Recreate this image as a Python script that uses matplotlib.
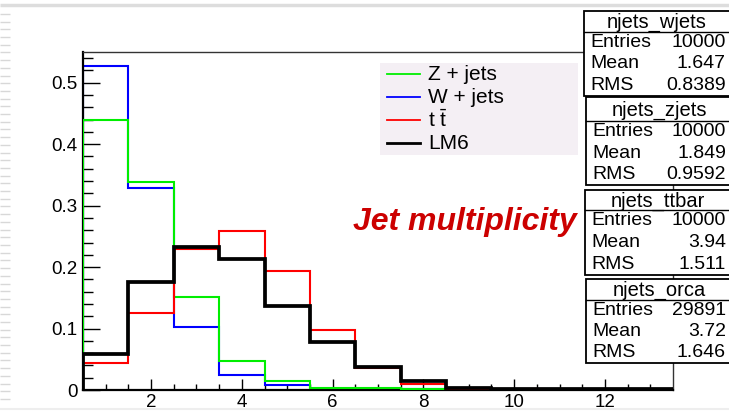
import numpy as np
import matplotlib.pyplot as plt
from matplotlib.patches import Rectangle

plt.rcParams['font.family'] = ['Liberation Sans', 'DejaVu Sans']
plt.rcParams['mathtext.fontset'] = 'custom'
plt.rcParams['mathtext.rm'] = 'Liberation Sans'

# bin edges (number of jets, 1..13)
edges = np.arange(0.5, 14.5, 1.0)

# normalised jet multiplicity per sample
zjets = [0.44, 0.338, 0.151, 0.047, 0.014, 0.004, 0.003, 0.002, 0.001, 0, 0, 0, 0]
wjets = [0.527, 0.329, 0.103, 0.025, 0.008, 0.002, 0.001, 0.001, 0.002, 0, 0, 0, 0]
ttbar = [0.044, 0.126, 0.229, 0.259, 0.194, 0.098, 0.036, 0.01, 0.002, 0.001, 0, 0, 0]
lm6   = [0.058, 0.176, 0.233, 0.213, 0.137, 0.078, 0.038, 0.015, 0.004, 0.001, 0.001, 0.001, 0.001]

legend_labels = ["Z + jets", "W + jets", r"t $\bar{\rm t}$", "LM6"]
legend_colors = ["#00ee00", "#0000ff", "#ff0000", "black"]

stat_boxes = [
    ("njets_wjets", "10000", "1.647", "0.8389"),
    ("njets_zjets", "10000", "1.849", "0.9592"),
    ("njets_ttbar", "10000", "3.94", "1.511"),
    ("njets_orca", "29891", "3.72", "1.646"),
]

W, H = 729, 411
fig = plt.figure(figsize=(W / 100, H / 100), dpi=100)
fig.patch.set_facecolor("white")

ax = fig.add_axes([83 / W, (H - 390) / H, (673 - 83) / W, (390 - 52) / H])
ax.stairs(wjets, edges, color="#0000ff", lw=1.5, zorder=2)
ax.stairs(zjets, edges, color="#00ee00", lw=1.5, zorder=3)
ax.stairs(ttbar, edges, color="#ff0000", lw=1.5, zorder=4)
ax.stairs(lm6, edges, color="black", lw=2.7, zorder=5)

ax.set_xlim(0.5, 13.5)
ax.set_ylim(0, 0.55)
ax.set_xticks([2, 4, 6, 8, 10, 12])
ax.set_xticks(np.arange(1, 13.5, 0.5), minor=True)
ax.set_yticks([0, 0.1, 0.2, 0.3, 0.4, 0.5])
ax.set_yticklabels(["0", "0.1", "0.2", "0.3", "0.4", "0.5"])
ax.set_yticks(np.arange(0, 0.55, 0.02), minor=True)
ax.tick_params(axis="x", which="major", direction="in", length=8, width=1, labelsize=13.5, pad=3)
ax.tick_params(axis="x", which="minor", direction="in", length=4, width=1)
ax.tick_params(axis="y", which="major", direction="in", length=12, width=1, labelsize=13.5, pad=4)
ax.tick_params(axis="y", which="minor", direction="in", length=7, width=1)
for s in ["left", "bottom"]:
    ax.spines[s].set_linewidth(1.6)
for s in ["top", "right"]:
    ax.spines[s].set_linewidth(1.0)
    ax.spines[s].set_color("#333333")

# overlay in pixel coordinates for legend, stat boxes, label
ov = fig.add_axes([0, 0, 1, 1], zorder=10)
ov.set_xlim(0, W)
ov.set_ylim(H, 0)
ov.axis("off")

# page decorations
ov.hlines(5, 0, W, color="#dddddd", lw=2.5)
ov.hlines(409, 0, W, color="#eeeeee", lw=1.5)
ov.hlines(np.arange(14, 405, 7.7), 0, 10, color="#d8d8d8", lw=1)

# legend
ov.add_patch(Rectangle((380, 63), 198, 92, facecolor="#f4eff4", edgecolor="none"))
for i, (lab, col) in enumerate(zip(legend_labels, legend_colors)):
    y = 74 + i * 23
    ov.plot([387, 420], [y, y], color=col, lw=2.0 if col == "black" else 1.3)
    ov.text(428, y, lab, fontsize=15, va="center", ha="left")

ov.text(465, 222, "Jet multiplicity", color="#cc0000", fontsize=23,
        fontweight="bold", fontstyle="italic", ha="center", va="center")

# stat boxes
box_geo = [(584, 11, 96, 32), (586, 97, 185, 121), (585, 190, 275, 210), (586, 279, 363, 300)]
for (name, ent, mean, rms), (x0, top, bot, hl) in zip(stat_boxes, box_geo):
    ov.add_patch(Rectangle((x0, top), 200, bot - top, facecolor="white",
                           edgecolor="black", lw=1.3))
    ov.plot([x0, W], [hl, hl], color="black", lw=1.0)
    ov.text(x0 + 73, (top + hl) / 2 + 1, name, fontsize=14.5, ha="center", va="center")
    rows = [("Entries", ent), ("Mean", mean), ("RMS", rms)]
    step = (bot - hl) / 3
    for j, (k, v) in enumerate(rows):
        yy = hl + step * (j + 0.5)
        ov.text(x0 + 6, yy, k, fontsize=14, ha="left", va="center")
        ov.text(726, yy, v, fontsize=14, ha="right", va="center")

fig.savefig("out.png", dpi=100)
